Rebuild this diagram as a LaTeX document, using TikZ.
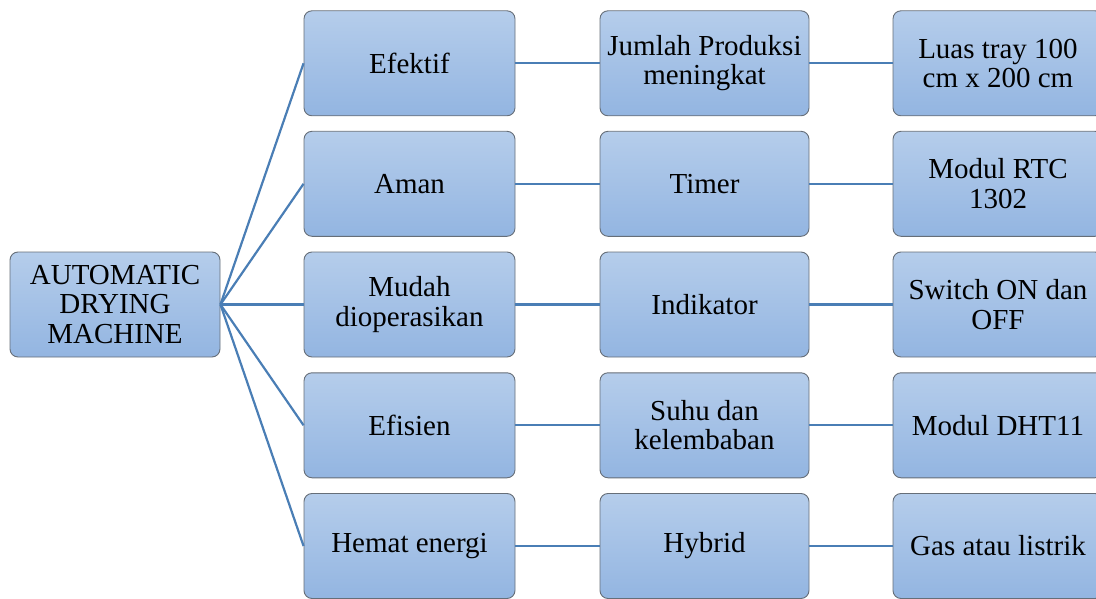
\documentclass[tikz,border=0pt]{standalone}
\usepackage{fontspec}
\setmainfont{Liberation Serif}
\definecolor{topc}{HTML}{B5CDEB}
\definecolor{botc}{HTML}{93B5E1}
\definecolor{boxborder}{HTML}{666E78}
\definecolor{linec}{HTML}{4A7EB5}
\tikzset{
  box/.style={draw=boxborder, line width=0.9pt, rounded corners=8pt,
    top color=topc, bottom color=botc, minimum width=211pt, minimum height=105pt,
    align=center, inner sep=2pt, font=\fontsize{29}{29.5}\selectfont},
  conn/.style={draw=linec, line width=2.2pt}
}
\begin{document}
\begin{tikzpicture}[x=1pt,y=-1pt]
\useasboundingbox (0,0) rectangle (1096,599);
\node[box, minimum width=210pt] (root) at (115,304.5) {AUTOMATIC\\DRYING\\MACHINE};
% column 2
\node[box] (a1) at (409.5,63.3) {Efektif};
\node[box] (a2) at (409.5,183.8) {Aman};
\node[box] (a3) at (409.5,304.5) {Mudah\\dioperasikan};
\node[box] (a4) at (409.5,425.3) {Efisien};
\node[box] (a5) at (409.5,546) {Hemat energi};
% column 3
\node[box, minimum width=209pt] (b1) at (704.5,63.3) {Jumlah Produksi\\meningkat};
\node[box, minimum width=209pt] (b2) at (704.5,183.8) {Timer};
\node[box, minimum width=209pt] (b3) at (704.5,304.5) {Indikator};
\node[box, minimum width=209pt] (b4) at (704.5,425.3) {Suhu dan\\kelembaban};
\node[box, minimum width=209pt] (b5) at (704.5,546) {Hybrid};
% column 4
\node[box, minimum width=210pt] (c1) at (998,63.3) {Luas tray 100\\cm x 200 cm};
\node[box, minimum width=210pt] (c2) at (998,183.8) {Modul RTC\\1302};
\node[box, minimum width=210pt] (c3) at (998,304.5) {Switch ON dan\\OFF};
\node[box, minimum width=210pt] (c4) at (998,425.3) {Modul DHT11};
\node[box, minimum width=210pt] (c5) at (998,546) {Gas atau listrik};
% connectors
\foreach \i in {1,...,5}{
  \draw[conn] (root.east) -- (a\i.west);
  \draw[conn] (a\i.east) -- (b\i.west);
  \draw[conn] (b\i.east) -- (c\i.west);
}
\end{tikzpicture}
\end{document}
